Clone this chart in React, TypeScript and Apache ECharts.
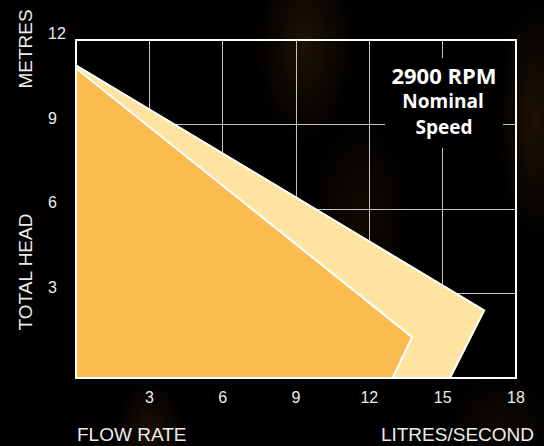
import React, { useEffect, useRef } from "react";
import * as echarts from "echarts";

// Tick values
const xTicks = [0, 3, 6, 9, 12, 15, 18];
const yTicks = [0, 3, 6, 9, 12];

// Performance envelope polygons (flow L/s, head m)
const maxFlowX = [0, 16.7, 15.3, 0];
const maxFlowY = [11.1, 2.4, 0, 0];
const nominalFlowX = [0, 13.75, 12.95, 0];
const nominalFlowY = [11.0, 1.45, 0, 0];

const titleLines = ["2900 RPM", "Nominal", "Speed"];
const yTitleTop = "METRES";
const yTitleBottom = "TOTAL HEAD";
const xTitleLeft = "FLOW RATE";
const xTitleRight = "LITRES/SECOND";

const LIGHT = "#FEE4A0";
const DARK = "#FCBB4F";
const LABEL = "#ececec";
const SANS = "'Liberation Sans', Arial, sans-serif";
const BOLD = "'Open Sans', 'Noto Sans', sans-serif";

function polygonSeries(xs: number[], ys: number[], fill: string, z: number) {
  return {
    type: "custom",
    z,
    clip: false,
    data: xs.map((x, i) => [x, ys[i]]),
    encode: { x: 0, y: 1 },
    renderItem: (params: any, api: any) => {
      if (params.dataIndex !== 0) return null;
      const pts = xs.map((x, i) => api.coord([x, ys[i]]));
      return {
        type: "polygon",
        shape: { points: pts },
        style: { fill, stroke: "#ffffff", lineWidth: 2, lineJoin: "miter" },
      };
    },
  };
}

export default function App() {
  const ref = useRef<HTMLDivElement>(null);

  useEffect(() => {
    if (!ref.current) return;
    const chart = echarts.init(ref.current, undefined, { renderer: "svg" });
    const option: any = {
      animation: false,
      backgroundColor: "transparent",
      grid: {
        left: 76,
        top: 40,
        width: 440,
        height: 338,
        show: true,
        borderColor: "#ffffff",
        borderWidth: 2,
        backgroundColor: "transparent",
      },
      xAxis: {
        type: "value",
        min: xTicks[0],
        max: xTicks[xTicks.length - 1],
        interval: 3,
        axisLine: { show: false },
        axisTick: { show: false },
        splitLine: {
          show: true,
          showMinLine: false,
          showMaxLine: false,
          lineStyle: { color: "#c4c4c4", width: 1 },
        },
        axisLabel: {
          showMinLabel: false,
          color: LABEL,
          fontSize: 16,
          fontFamily: SANS,
          margin: 11,
        },
      },
      yAxis: {
        type: "value",
        min: yTicks[0],
        max: yTicks[yTicks.length - 1],
        interval: 3,
        axisLine: { show: false },
        axisTick: { show: false },
        splitLine: {
          show: true,
          showMinLine: false,
          showMaxLine: false,
          lineStyle: { color: "#c4c4c4", width: 1 },
        },
        axisLabel: {
          showMinLabel: false,
          color: LABEL,
          fontSize: 16,
          fontFamily: SANS,
          align: "left",
          margin: 28,
          verticalAlign: "bottom",
          lineHeight: 13,
        },
      },
      graphic: [
        {
          type: "rect",
          shape: { x: 385, y: 58, width: 118, height: 90 },
          style: { fill: "#000" },
          z: 50,
        },
        {
          type: "text",
          x: 444,
          y: 75,
          z: 51,
          style: {
            text: titleLines[0],
            fill: "#fff",
            font: `bold 22px ${BOLD}`,
            align: "center",
            verticalAlign: "middle",
          },
        },
        {
          type: "text",
          x: 443,
          y: 101,
          z: 51,
          style: {
            text: titleLines[1],
            fill: "#fff",
            font: `bold 19px ${BOLD}`,
            align: "center",
            verticalAlign: "middle",
          },
        },
        {
          type: "text",
          x: 444,
          y: 127,
          z: 51,
          style: {
            text: titleLines[2],
            fill: "#fff",
            font: `bold 19px ${BOLD}`,
            align: "center",
            verticalAlign: "middle",
          },
        },
        {
          type: "text",
          x: 25,
          y: 49,
          rotation: Math.PI / 2,
          style: {
            text: yTitleTop,
            fill: LABEL,
            font: `19px ${SANS}`,
            align: "center",
            verticalAlign: "middle",
          },
        },
        {
          type: "text",
          x: 25,
          y: 272,
          rotation: Math.PI / 2,
          style: {
            text: yTitleBottom,
            fill: LABEL,
            font: `19px ${SANS}`,
            align: "center",
            verticalAlign: "middle",
          },
        },
        {
          type: "text",
          x: 77,
          y: 434,
          style: {
            text: xTitleLeft,
            fill: LABEL,
            font: `19px ${SANS}`,
            align: "left",
            verticalAlign: "middle",
          },
        },
        {
          type: "text",
          x: 534,
          y: 434,
          style: {
            text: xTitleRight,
            fill: LABEL,
            font: `19px ${SANS}`,
            align: "right",
            verticalAlign: "middle",
          },
        },
      ],
      series: [
        polygonSeries(maxFlowX, maxFlowY, LIGHT, 3),
        polygonSeries(nominalFlowX, nominalFlowY, DARK, 4),
      ],
    };
    chart.setOption(option);
    return () => chart.dispose();
  }, []);

  const bg = [
    "radial-gradient(ellipse 50px 100px at 305px 45px, rgba(100,56,16,0.30), rgba(0,0,0,0) 100%)",
    "radial-gradient(ellipse 40px 120px at 535px 120px, rgba(100,56,16,0.30), rgba(0,0,0,0) 100%)",
    "radial-gradient(ellipse 35px 50px at 150px 430px, rgba(90,50,14,0.30), rgba(0,0,0,0) 100%)",
    "radial-gradient(ellipse 50px 100px at 360px 210px, rgba(75,42,12,0.22), rgba(0,0,0,0) 100%)",
    "radial-gradient(ellipse 55px 45px at 500px 420px, rgba(70,40,12,0.20), rgba(0,0,0,0) 100%)",
    "#000",
  ].join(", ");

  return (
    <div
      ref={ref}
      style={{
        position: "fixed",
        left: 0,
        top: 0,
        width: 544,
        height: 446,
        background: bg,
      }}
    />
  );
}
